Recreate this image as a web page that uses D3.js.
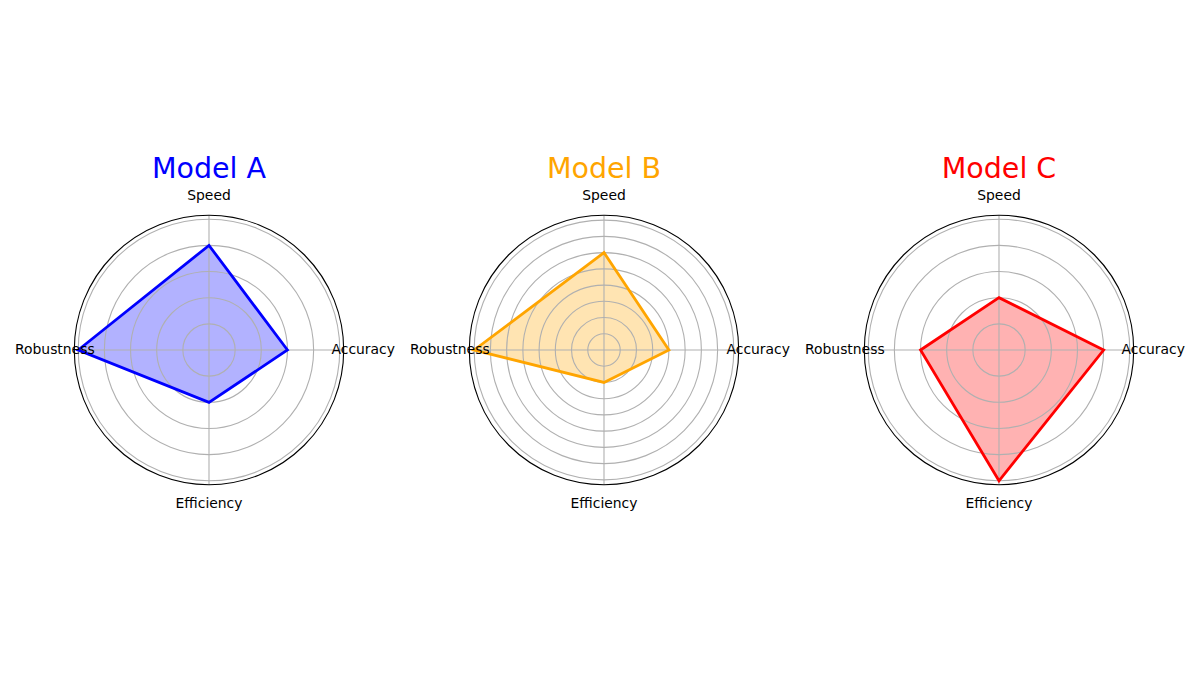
<!DOCTYPE html>
<html>
<head>
<meta charset="utf-8">
<script src="https://cdn.jsdelivr.net/npm/d3@7"></script>
<style>
  html, body { margin: 0; padding: 0; background: #fff; }
  svg { display: block; font-family: "DejaVu Sans", sans-serif; }
</style>
</head>
<body>
<svg id="chart" width="1200" height="700"></svg>
<script>
// Categories in counter-clockwise order starting at angle 0 (right)
const categories = ["Accuracy", "Speed", "Robustness", "Efficiency"];
const modelNames = ["Model A", "Model B", "Model C"];
const modelColors = ["#0000ff", "#ffa500", "#ff0000"];
const valuesA = [3, 4, 5, 2];
const valuesB = [4, 6, 8, 2];
const valuesC = [4, 2, 3, 5];
const radialTicksA = [1, 2, 3, 4, 5];
const radialTicksB = [1, 2, 3, 4, 5, 6, 7, 8];
const radialTicksC = [1, 2, 3, 4, 5];

const models = [
  { name: modelNames[0], color: modelColors[0], values: valuesA, ticks: radialTicksA },
  { name: modelNames[1], color: modelColors[1], values: valuesB, ticks: radialTicksB },
  { name: modelNames[2], color: modelColors[2], values: valuesC, ticks: radialTicksC }
];

const svg = d3.select("#chart");
const centersX = [209, 604, 999];
const cy = 350;
const R = 134.7;

const angle = d3.scalePoint().domain(categories).range([0, 2 * Math.PI]).padding(0);
// scalePoint over [0,2π] with 4 points would end at 2π; use band-like step instead
const angleOf = c => categories.indexOf(c) * (2 * Math.PI / categories.length);

models.forEach((m, i) => {
  const mx = d3.max(m.values), mn = d3.min(m.values);
  const rmax = mx + 0.05 * (mx - mn);
  const r = d3.scaleLinear().domain([0, rmax]).range([0, R]);
  const g = svg.append("g").attr("transform", `translate(${centersX[i]},${cy})`);

  const pt = (c, v) => {
    const a = angleOf(c);
    return [r(v) * Math.cos(a), -r(v) * Math.sin(a)];
  };

  // fill
  const pts = categories.map((c, k) => pt(c, m.values[k]));
  const lineGen = d3.line().curve(d3.curveLinearClosed);
  g.append("path")
    .attr("d", lineGen(pts))
    .attr("fill", m.color)
    .attr("fill-opacity", 0.3)
    .attr("stroke", "none");

  // grid circles
  g.selectAll("circle.grid").data(m.ticks).enter().append("circle")
    .attr("class", "grid")
    .attr("r", d => r(d))
    .attr("fill", "none")
    .attr("stroke", "#b0b0b0")
    .attr("stroke-width", 1.1);

  // angular grid lines
  g.selectAll("line.spoke").data(categories).enter().append("line")
    .attr("x1", 0).attr("y1", 0)
    .attr("x2", d => R * Math.cos(angleOf(d)))
    .attr("y2", d => -R * Math.sin(angleOf(d)))
    .attr("stroke", "#b0b0b0")
    .attr("stroke-width", 1.1);

  // data line
  g.append("path")
    .attr("d", lineGen(pts))
    .attr("fill", "none")
    .attr("stroke", m.color)
    .attr("stroke-width", 2.8)
    .attr("stroke-linejoin", "miter");

  // outer spine
  g.append("circle")
    .attr("r", R)
    .attr("fill", "none")
    .attr("stroke", "#000")
    .attr("stroke-width", 1.1);

  // category labels
  const LR = R + 19.5;
  g.selectAll("text.cat").data(categories).enter().append("text")
    .attr("class", "cat")
    .attr("x", d => LR * Math.cos(angleOf(d)))
    .attr("y", d => -LR * Math.sin(angleOf(d)))
    .attr("dy", "0.3em")
    .attr("text-anchor", "middle")
    .attr("font-size", "13.9px")
    .attr("fill", "#000")
    .text(d => d);

  // title
  svg.append("text")
    .attr("x", centersX[i])
    .attr("y", 178.3)
    .attr("text-anchor", "middle")
    .attr("font-size", "28.5px")
    .attr("fill", m.color)
    .text(m.name);
});
</script>
</body>
</html>
